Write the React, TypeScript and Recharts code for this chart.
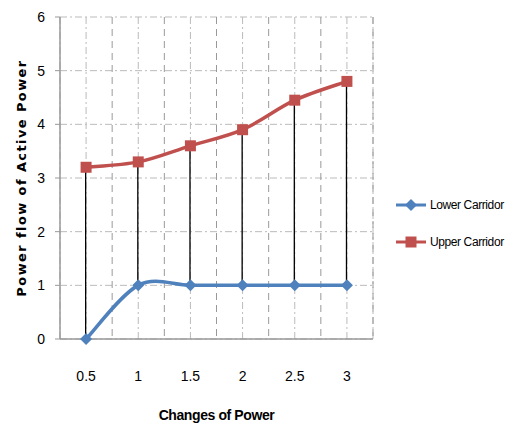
import React from 'react';
import { ComposedChart, Line, Bar, XAxis, YAxis, CartesianGrid } from 'recharts';

const categories = ['0.5', '1', '1.5', '2', '2.5', '3'];
const lowerCarridor = [0, 1, 1, 1, 1, 1];
const upperCarridor = [3.2, 3.3, 3.6, 3.9, 4.45, 4.8];
const yTicks = [0, 1, 2, 3, 4, 5, 6];

const data = categories.map((c, i) => ({
  cat: c,
  lower: lowerCarridor[i],
  upper: upperCarridor[i],
  range: [lowerCarridor[i], upperCarridor[i]],
}));

const BLUE = '#4F81BD';
const RED = '#C0504D';
const FONT = '"Liberation Sans", Arial, sans-serif';

// Excel-like smoothed line (Catmull-Rom / cardinal with tension 0)
const excelCurve = (context: any) => {
  let pts: number[][] = [];
  return {
    areaStart() {},
    areaEnd() {},
    lineStart() {
      pts = [];
    },
    point(x: number, y: number) {
      pts.push([+x, +y]);
    },
    lineEnd() {
      if (!pts.length) return;
      context.moveTo(pts[0][0], pts[0][1]);
      const k = 1 / 6;
      for (let i = 0; i < pts.length - 1; i++) {
        const p0 = pts[Math.max(0, i - 1)];
        const p1 = pts[i];
        const p2 = pts[i + 1];
        const p3 = pts[Math.min(pts.length - 1, i + 2)];
        context.bezierCurveTo(
          p1[0] + k * (p2[0] - p0[0]),
          p1[1] + k * (p2[1] - p0[1]),
          p2[0] - k * (p3[0] - p1[0]),
          p2[1] - k * (p3[1] - p1[1]),
          p2[0],
          p2[1]
        );
      }
    },
  };
};

const Diamond = (props: any) => {
  const { cx, cy } = props;
  if (cx == null || cy == null) return null;
  const r = 6;
  return <path d={`M${cx},${cy - r}L${cx + r},${cy}L${cx},${cy + r}L${cx - r},${cy}Z`} fill={BLUE} />;
};

const Square = (props: any) => {
  const { cx, cy } = props;
  if (cx == null || cy == null) return null;
  const s = 5.5;
  return <rect x={cx - s} y={cy - s} width={2 * s} height={2 * s} fill={RED} />;
};

const legendItems = [
  { name: 'Lower Carridor', color: BLUE, shape: 'd' },
  { name: 'Upper Carridor', color: RED, shape: 's' },
];

const LegendBox = () => (
  <div style={{ position: 'absolute', left: 396, top: 195, fontFamily: FONT, fontSize: 12, color: '#000', letterSpacing: -0.4 }}>
    {legendItems.map((e, i) => (
      <div key={e.name} style={{ display: 'flex', alignItems: 'center', height: 20, marginBottom: i === 0 ? 17 : 0 }}>
        <svg width={32} height={14} style={{ marginRight: 2 }}>
          <line x1={0} y1={7} x2={30} y2={7} stroke={e.color} strokeWidth={3} />
          {e.shape === 'd' ? (
            <path d="M15,1L21,7L15,13L9,7Z" fill={e.color} />
          ) : (
            <rect x={9.5} y={1.5} width={11} height={11} fill={e.color} />
          )}
        </svg>
        <span>{e.name}</span>
      </div>
    ))}
  </div>
);

export default function App() {
  return (
    <div style={{ position: 'absolute', left: 0, top: 0, width: 529, height: 423 }}>
      <ComposedChart
        width={529}
        height={423}
        data={data}
        margin={{ top: 17, right: 156, bottom: 0, left: 0 }}
      >
        <CartesianGrid
          horizontal
          vertical
          stroke="#bbbbbb"
          strokeDasharray="7 3 2 3"
          strokeWidth={1}
        />
        <CartesianGrid
          horizontal={false}
          vertical
          stroke="#999999"
          strokeWidth={1}
          strokeDasharray="7 5"
          verticalCoordinatesGenerator={({ offset }: any) =>
            categories.map((_, i) => offset.left + ((i + 1) * offset.width) / categories.length)
          }
        />
        <XAxis
          dataKey="cat"
          height={84}
          axisLine={{ stroke: '#999999', strokeWidth: 1.5 }}
          tickLine={false}
          tick={{ fontFamily: FONT, fontSize: 14, fill: '#000' }}
          tickMargin={26}
          label={{
            value: 'Changes of Power',
            position: 'insideBottom',
            offset: 0,
            dy: -3,
            style: { fontFamily: FONT, fontSize: 14, fontWeight: 'bold', fill: '#000', letterSpacing: -0.4 },
          }}
        />
        <YAxis
          width={60}
          domain={[0, 6]}
          ticks={yTicks}
          interval={0}
          axisLine={{ stroke: '#999999', strokeWidth: 1.5 }}
          tickLine={{ stroke: '#999999' }}
          tickSize={5}
          tickMargin={10}
          tick={{ fontFamily: FONT, fontSize: 14, fill: '#000' }}
          label={{
            value: 'Power flow of Active Power',
            angle: -90,
            position: 'insideLeft',
            offset: 0,
            dx: 21,
            style: {
              fontFamily: '"DejaVu Sans", sans-serif',
              fontSize: 13,
              fontWeight: 'bold',
              fill: '#000',
              letterSpacing: 1.4,
              textAnchor: 'middle',
            },
          }}
        />
        <Bar dataKey="range" barSize={1.3} fill="#000" isAnimationActive={false} legendType="none" />
        <Line
          type={excelCurve as any}
          dataKey="lower"
          name="Lower Carridor"
          stroke={BLUE}
          strokeWidth={3.5}
          dot={<Diamond />}
          activeDot={false}
          isAnimationActive={false}
        />
        <Line
          type={excelCurve as any}
          dataKey="upper"
          name="Upper Carridor"
          stroke={RED}
          strokeWidth={3.5}
          dot={<Square />}
          activeDot={false}
          isAnimationActive={false}
        />
      </ComposedChart>
      <LegendBox />
    </div>
  );
}
